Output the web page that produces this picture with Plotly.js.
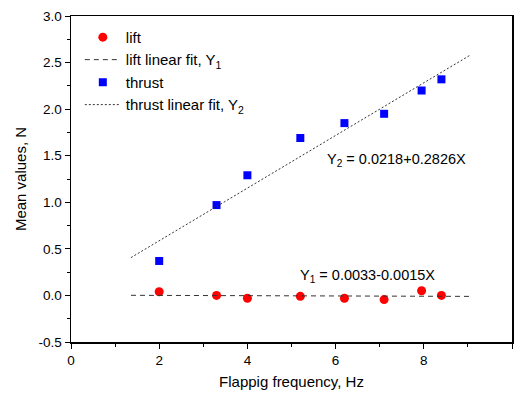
<!DOCTYPE html>
<html>
<head>
<meta charset="utf-8">
<script src="https://cdn.plot.ly/plotly-3.0.1.min.js"></script>
<style>html,body{margin:0;padding:0;background:#fff;}#chart{width:519px;height:396px;}</style>
</head>
<body>
<div id="chart"></div>
<script>
const freq = [2.0, 3.3, 4.0, 5.2, 6.2, 7.1, 7.95, 8.4];
const lift = [0.04, 0.00, -0.03, -0.01, -0.03, -0.045, 0.05, 0.00];
const thrust = [0.37, 0.97, 1.29, 1.69, 1.85, 1.95, 2.20, 2.32];
const fitX = [1.36, 9.07];
const liftFitY = [0.0013, -0.0103];
const thrustFitY = [0.406, 2.585];
const liftEq = "Y<sub>1</sub> = 0.0033-0.0015X";
const thrustEq = "Y<sub>2</sub> = 0.0218+0.2826X";

const FONT = "Liberation Sans, Arial, sans-serif";

const traces = [
  {x: freq, y: lift, mode: "markers", type: "scatter", name: "lift",
   marker: {symbol: "circle", color: "#ff0000", size: 9}},
  {x: fitX, y: liftFitY, mode: "lines", type: "scatter", name: "lift linear fit, Y<sub>1</sub>",
   line: {color: "#333333", dash: "5px,4px", width: 1}},
  {x: freq, y: thrust, mode: "markers", type: "scatter", name: "thrust",
   marker: {symbol: "square", color: "#0000ff", size: 8}},
  {x: fitX, y: thrustFitY, mode: "lines", type: "scatter", name: "thrust linear fit, Y<sub>2</sub>",
   line: {color: "#333333", dash: "2px,2px", width: 1}}
];

const layout = {
  width: 519, height: 396,
  margin: {l: 71, r: 7, t: 16, b: 54},
  paper_bgcolor: "#fff", plot_bgcolor: "#fff",
  font: {family: FONT, size: 14, color: "#000"},
  showlegend: true,
  legend: {x: 0.02, y: 0.985, xanchor: "left", yanchor: "top",
           bgcolor: "rgba(0,0,0,0)", font: {family: FONT, size: 15, color: "#000"},
           tracegroupgap: 0, itemwidth: 36},
  xaxis: {range: [0, 10], tickvals: [0,2,4,6,8,10], ticks: "outside", ticklen: 5, tickwidth: 1,
          minor: {tickvals: [1,3,5,7,9], ticks: "outside", ticklen: 3, tickwidth: 1, tickcolor: "#000"},
          showgrid: false, zeroline: false, showline: true, linecolor: "#000", linewidth: 1.5, mirror: true,
          tickcolor: "#000", tickfont: {family: FONT, size: 13.5},
          title: {text: "Flappig frequency, Hz", font: {family: FONT, size: 15}, standoff: 10}},
  yaxis: {range: [-0.5, 3.0], tickvals: [-0.5,0,0.5,1,1.5,2,2.5,3], ticktext: ["-0.5","0.0","0.5","1.0","1.5","2.0","2.5","3.0"],
          ticks: "outside", ticklen: 5, tickwidth: 1,
          minor: {tickvals: [-0.25,0.25,0.75,1.25,1.75,2.25,2.75], ticks: "outside", ticklen: 3, tickwidth: 1, tickcolor: "#000"},
          showgrid: false, zeroline: false, showline: true, linecolor: "#000", linewidth: 1.5, mirror: true,
          tickcolor: "#000", tickfont: {family: FONT, size: 13.5},
          title: {text: "Mean values, N", font: {family: FONT, size: 15}, standoff: 8}},
  annotations: [
    {x: 5.76, y: 1.45, xref: "x", yref: "y", text: thrustEq, showarrow: false, xanchor: "left", yanchor: "middle",
     font: {family: FONT, size: 14.5}},
    {x: 5.15, y: 0.21, xref: "x", yref: "y", text: liftEq, showarrow: false, xanchor: "left", yanchor: "middle",
     font: {family: FONT, size: 14.5}}
  ]
};

Plotly.newPlot("chart", traces, layout, {displayModeBar: false, staticPlot: true});
</script>
</body>
</html>
